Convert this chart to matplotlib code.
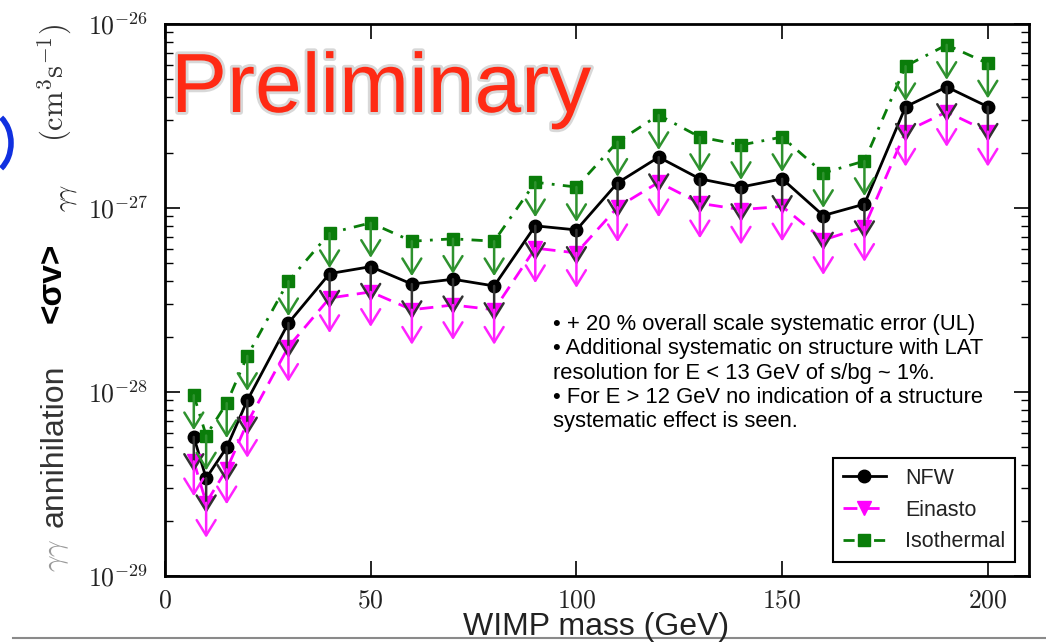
import numpy as np
import matplotlib
matplotlib.use("Agg")
import matplotlib.pyplot as plt
import matplotlib.patheffects as pe
from matplotlib.patches import Arc
from matplotlib.lines import Line2D
from matplotlib.ticker import FixedLocator, FuncFormatter

plt.rcParams['mathtext.fontset'] = 'cm'
plt.rcParams['font.family'] = ['Liberation Sans', 'DejaVu Sans']

# ---- data ----
mass = [7, 10, 15, 20, 30, 40, 50, 60, 70, 80, 90, 100, 110, 120, 130, 140, 150, 160, 170, 180, 190, 200]
nfw = [5.7e-29, 3.4e-29, 5.0e-29, 9.0e-29, 2.37e-28, 4.4e-28, 4.8e-28, 3.86e-28, 4.1e-28, 3.77e-28,
       8.0e-28, 7.6e-28, 1.37e-27, 1.89e-27, 1.44e-27, 1.30e-27, 1.44e-27, 9.1e-28, 1.05e-27,
       3.55e-27, 4.55e-27, 3.55e-27]
einasto = [4.2e-29, 2.5e-29, 3.8e-29, 6.8e-29, 1.76e-28, 3.24e-28, 3.5e-28, 2.8e-28, 2.97e-28, 2.8e-28,
           6.05e-28, 5.7e-28, 1.01e-27, 1.38e-27, 1.06e-27, 9.8e-28, 1.02e-27, 6.7e-28, 7.9e-28,
           2.6e-27, 3.33e-27, 2.6e-27]
isothermal = [9.6e-29, 5.8e-29, 8.7e-29, 1.57e-28, 4.0e-28, 7.3e-28, 8.3e-28, 6.6e-28, 6.8e-28, 6.6e-28,
              1.38e-27, 1.30e-27, 2.29e-27, 3.2e-27, 2.43e-27, 2.2e-27, 2.43e-27, 1.55e-27, 1.8e-27,
              5.9e-27, 7.7e-27, 6.1e-27]
series_labels = ['NFW', 'Einasto', 'Isothermal']
yticks = [1e-29, 1e-28, 1e-27, 1e-26]
xticks = [0, 50, 100, 150, 200]
notes = ["\u2022 + 20 % overall scale systematic error (UL)",
         "\u2022 Additional systematic on structure with LAT",
         "resolution for E < 13 GeV of s/bg ~ 1%.",
         "\u2022 For E > 12 GeV no indication of a structure",
         "systematic effect is seen."]

W, H = 1046, 642
fig = plt.figure(figsize=(W / 100, H / 100), dpi=100)
ax = fig.add_axes([165 / W, 1 - 576 / H, (1029 - 165) / W, (576 - 24) / H])
ax.set_yscale('log')
ax.set_xlim(0, 210)
ax.set_ylim(1e-29, 1e-26)

arrow_factor = 10 ** (-0.19)

def draw_series(y, color, acolor, ls, marker, ms, label, dashes=None):
    kw = dict(color=color, lw=2, marker=marker, ms=ms, mfc=color, mec=color, label=label)
    if dashes is not None:
        kw['dashes'] = dashes
    else:
        kw['ls'] = ls
    line, = ax.plot(mass, y, **kw)
    for xv, yv in zip(mass, y):
        ax.annotate('', xy=(xv, yv * arrow_factor), xytext=(xv, yv),
                    arrowprops=dict(arrowstyle='->,head_length=0.55,head_width=0.34',
                                    color=acolor, lw=1.8, shrinkA=0, shrinkB=0,
                                    mutation_scale=20))
    return line

draw_series(nfw, 'black', '#333333', '-', 'o', 9, series_labels[0])
draw_series(einasto, '#ff00ff', '#ff22ff', None, 'v', 10.5, series_labels[1], dashes=(5, 3))
draw_series(isothermal, '#0a7d0a', '#2e922e', None, 's', 8.5, series_labels[2], dashes=(4, 3, 1, 3))

ax.yaxis.set_major_locator(FixedLocator(yticks))
ax.yaxis.set_major_formatter(FuncFormatter(lambda v, p: r'$10^{%d}$' % int(round(np.log10(v)))))
ax.xaxis.set_major_locator(FixedLocator(xticks))
ax.xaxis.set_major_formatter(FuncFormatter(lambda v, p: r'$%d$' % int(v)))
ax.xaxis.set_minor_locator(FixedLocator([]))
ax.tick_params(which='both', direction='in', top=True, right=True, colors='black', labelcolor='#222222')
ax.tick_params(which='major', length=11, width=1.2, labelsize=18.5, pad=9)
ax.tick_params(which='minor', length=6, width=1.0)
ax.tick_params(axis='y', which='major', pad=12)
for s in ax.spines.values():
    s.set_linewidth(2)

leg = ax.legend(loc='lower right', fontsize=15.5, frameon=True, fancybox=False, framealpha=1,
                edgecolor='black', handlelength=2.0, borderaxespad=0.65, labelspacing=0.5,
                numpoints=1, borderpad=0.45, handletextpad=0.9)
leg.get_frame().set_linewidth(1.5)
for t in leg.get_texts():
    t.set_color('#222222')

# "Preliminary"
fig.text(171 / W, 1 - 112 / H, 'Preliminary', fontsize=60.5, color='#ff2a14',
         ha='left', va='baseline',
         path_effects=[pe.withStroke(linewidth=4, foreground='#d8d8d8')])

# notes
for i, line in enumerate(notes):
    fig.text(553 / W, 1 - (330 + i * 24.3) / H, line, fontsize=15.8, color='black',
             ha='left', va='baseline')

# x label
fig.text(596 / W, 1 - 635 / H, 'WIMP mass (GeV)', fontsize=23, color='#222222',
         ha='center', va='baseline')

# y label pieces
fig.text(55 / W, 1 - 83 / H, r'$(\mathrm{cm}^3\mathrm{s}^{-1})$', fontsize=22, color='#333333',
         rotation=90, ha='center', va='center')
fig.text(67 / W, 1 - 198 / H, r'$\gamma\gamma$', fontsize=18, color='#222222',
         rotation=90, ha='center', va='center')
fig.text(52 / W, 1 - 283 / H, '<\u03c3v>', fontsize=24, fontweight='bold', color='black',
         rotation=90, ha='center', va='center')
fig.text(55 / W, 1 - 446 / H, 'annihilation', fontsize=23, color='#333333',
         rotation=90, ha='center', va='center')
fig.text(57 / W, 1 - 556 / H, r'$\gamma\gamma$', fontsize=21, color='#999999',
         rotation=90, ha='center', va='center')

# slide decorations
fig.add_artist(Line2D([13 / W, 1.0], [1 - 638 / H, 1 - 638 / H], transform=fig.transFigure,
                      color='#8a8a8a', lw=1.5))
arc = Arc((-14 / W, 1 - 143 / H), 50 / W, 64 / H, theta1=-70, theta2=70,
          transform=fig.transFigure, color='#1030e0', lw=4)
fig.add_artist(arc)

fig.savefig('out.png', dpi=100)
